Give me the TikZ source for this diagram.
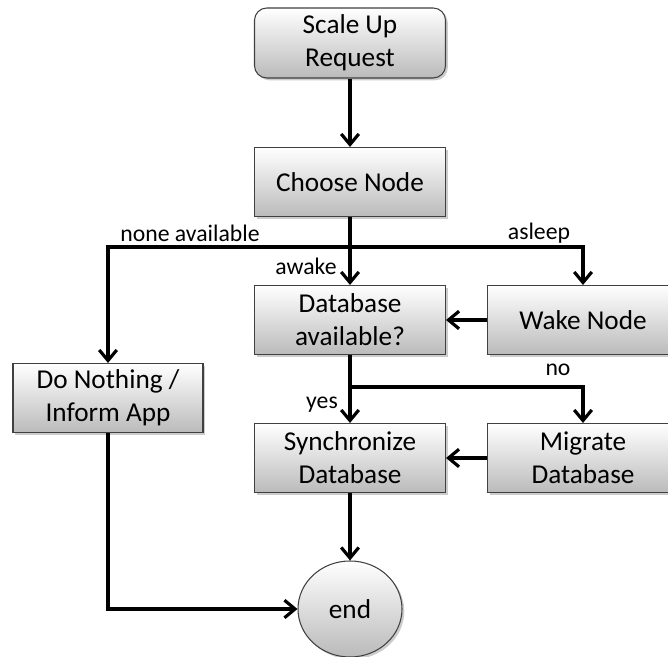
\documentclass[tikz,border=0pt]{standalone}
\usepackage{fontspec}
\setmainfont{Carlito}
\usetikzlibrary{arrows.meta}
\usetikzlibrary{shadows}
\usetikzlibrary{shapes.geometric}

\tikzset{
    stepbox/.style={draw=black!75, line width=0.6pt, minimum width=3.82cm, minimum height=1.38cm,
        align=center, top color=white, bottom color=black!27,
        drop shadow={shadow xshift=1.3pt, shadow yshift=-1.3pt, opacity=0.4},
        font=\fontsize{15.5}{18.7}\selectfont},
    flow/.style={line width=1.9pt, -{Straight Barb[length=6pt, width=10pt, line width=1.8pt]}},
    branch/.style={font=\fontsize{13.5}{16}\selectfont}
}

\begin{document}
\begin{tikzpicture}
            % Fix the page to the size of the reference
            \clip (0,0) rectangle (13.36,13.14);

            % Draw the boxes
            \node[stepbox, rounded corners=7pt, minimum height=1.40cm] (request) at (7.0,12.28) {Scale Up\\Request};
            \node[stepbox] (choose) at (7.0,9.50) {Choose Node};
            \node[stepbox] (dbavail) at (7.0,6.74) {Database\\available?};
            \node[stepbox] (wake) at (11.66,6.74) {Wake Node};
            \node[stepbox, minimum width=3.80cm] (nothing) at (2.16,5.18) {Do Nothing /\\Inform App};
            \node[stepbox] (sync) at (7.0,3.98) {Synchronize\\Database};
            \node[stepbox] (migrate) at (11.66,3.98) {Migrate\\Database};
            \node[stepbox, ellipse, inner sep=0pt, minimum width=2.08cm, minimum height=1.92cm] (end) at (7.0,0.96) {end};

            % Define the branch points
            \coordinate (J1) at (7.0,8.20);
            \coordinate (J2) at (7.0,5.40);

            % Draw the connectors
            \draw[flow] (request) -- (choose);
            \draw[line width=1.9pt] (choose) -- (J1);
            \draw[flow] (J1) -- (dbavail);
            \draw[flow] (J1) -| (nothing);
            \draw[flow] (J1) -| (wake);
            \draw[flow] (wake) -- (dbavail);
            \draw[line width=1.9pt] (dbavail) -- (J2);
            \draw[flow] (J2) -- (sync);
            \draw[flow] (J2) -| (migrate);
            \draw[flow] (migrate) -- (sync);
            \draw[flow] (sync) -- (end);
            \draw[flow] (nothing) |- (end);

            % Label the branches
            \node[branch] (lnone) at (3.80,8.48) {none available};
            \node[branch] (lasleep) at (10.78,8.48) {asleep};
            \node[branch] (lawake) at (6.12,7.82) {awake};
            \node[branch] (lno) at (11.16,5.74) {no};
            \node[branch] (lyes) at (6.44,5.04) {yes};

        \end{tikzpicture}
\end{document}
